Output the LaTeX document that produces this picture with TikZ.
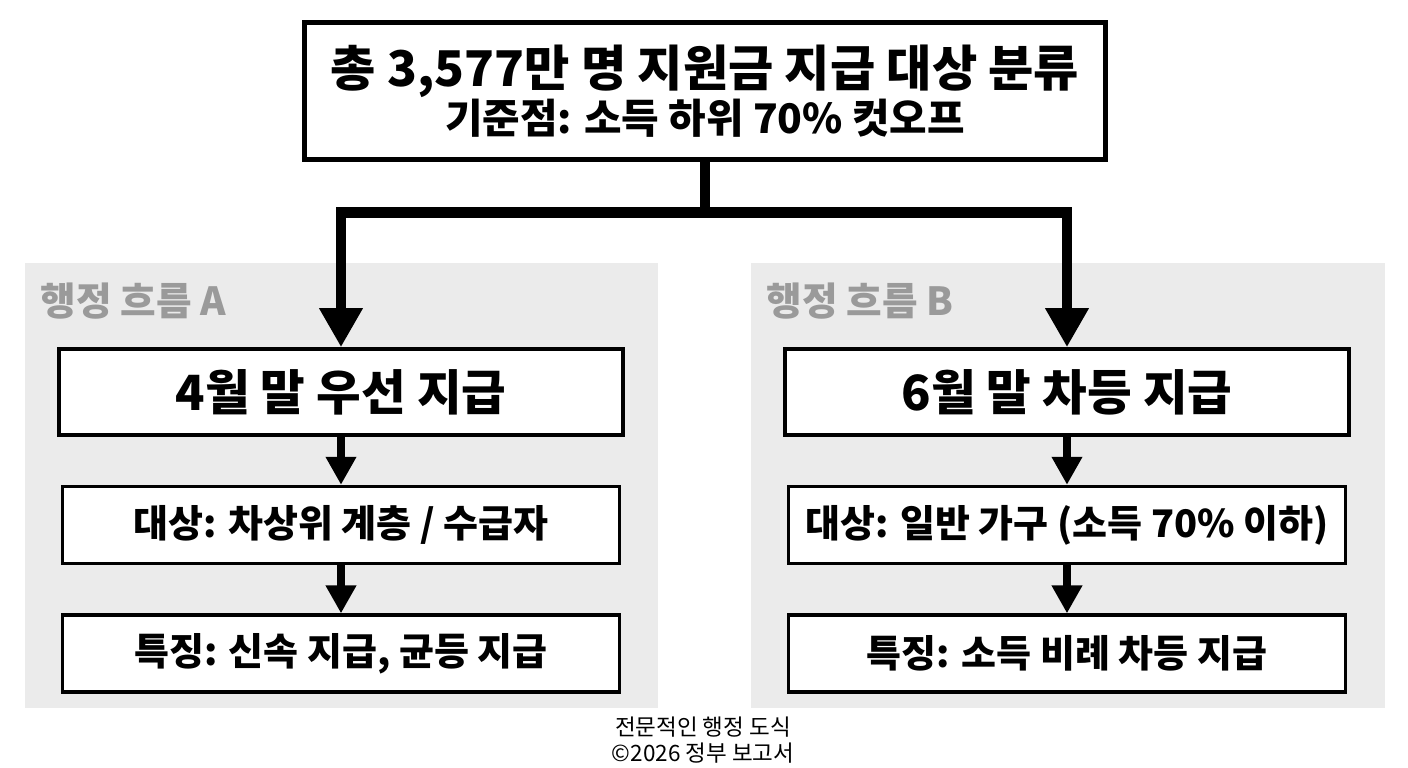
\documentclass[tikz,border=0pt]{standalone}
\usepackage{fontspec}
\setmainfont{Noto Sans CJK KR}
\usepackage{tikz}
\usetikzlibrary{arrows.meta,calc,positioning}
\definecolor{panelgray}{HTML}{EBEBEB}
\definecolor{labelgray}{HTML}{9A9A9A}

\begin{document}
\begin{tikzpicture}[x=0.01cm,y=-0.01cm,node distance=0.48cm,
    topbox/.style={draw=black,line width=1.5pt,fill=white,align=center,inner sep=0pt,
      minimum width=8.0cm,minimum height=1.37cm},
    stepbox/.style={draw=black,line width=1pt,fill=white,align=center,inner sep=0pt,
      minimum width=5.57cm,minimum height=0.77cm,font=\bfseries\fontsize{10.8}{13}\selectfont},
    headbox/.style={stepbox,minimum width=5.64cm,minimum height=0.86cm,
      font=\bfseries\fontsize{13.8}{16}\selectfont},
    flowlabel/.style={anchor=west,inner sep=0pt,text=labelgray,
      font=\bfseries\fontsize{11}{13}\selectfont},
    bigarrow/.style={line width=3.1pt,-{Triangle[width=4.1mm,length=3.9mm]}},
    smallarrow/.style={line width=2.3pt,-{Triangle[width=2.9mm,length=2.8mm]}}]
        \useasboundingbox (0,0) rectangle (1408,768);
        % grey lanes
        \fill[panelgray] (25,263) rectangle (658,708);
        \fill[panelgray] (751,263) rectangle (1385,708);
        \node[flowlabel] (laneA) at (40,301) {행정 흐름 A};
        \node[flowlabel] (laneB) at (766,301) {행정 흐름 B};
        % top box
        \node[topbox] (total) at (705,91) {
          {\bfseries\fontsize{14}{17}\selectfont 총 3,577만 명 지원금 지급 대상 분류}\\[-0.5pt]
          {\bfseries\fontsize{11.6}{14}\selectfont 기준점: 소득 하위 70\% 컷오프}};
        % lane A
        \node[headbox] (aprilpay) at (341,392) {4월 말 우선 지급};
        \node[stepbox,below=of aprilpay] (aprilwho) {대상: 차상위 계층 / 수급자};
        \node[stepbox,below=of aprilwho] (aprilnote) {특징: 신속 지급, 균등 지급};
        % lane B
        \node[headbox] (junepay) at (1067,392) {6월 말 차등 지급};
        \node[stepbox,below=of junepay] (junewho) {대상: 일반 가구 (소득 70\% 이하)};
        \node[stepbox,below=of junewho] (junenote) {특징: 소득 비례 차등 지급};
        \coordinate (fork) at ($(total.south)+(0,50)$);
        \draw[bigarrow] (total.south) -- (fork) -| (aprilpay.north);
        \draw[bigarrow] (total.south) -- (fork) -| (junepay.north);
        \draw[smallarrow] (aprilpay) -- (aprilwho);
        \draw[smallarrow] (aprilwho) -- (aprilnote);
        \draw[smallarrow] (junepay) -- (junewho);
        \draw[smallarrow] (junewho) -- (junenote);
        \node[align=center,inner sep=0pt,font=\fontsize{6.4}{7.2}\selectfont] (caption) at (703,740) {
          전문적인 행정 도식\\©2026 정부 보고서};
      \end{tikzpicture}
\end{document}
